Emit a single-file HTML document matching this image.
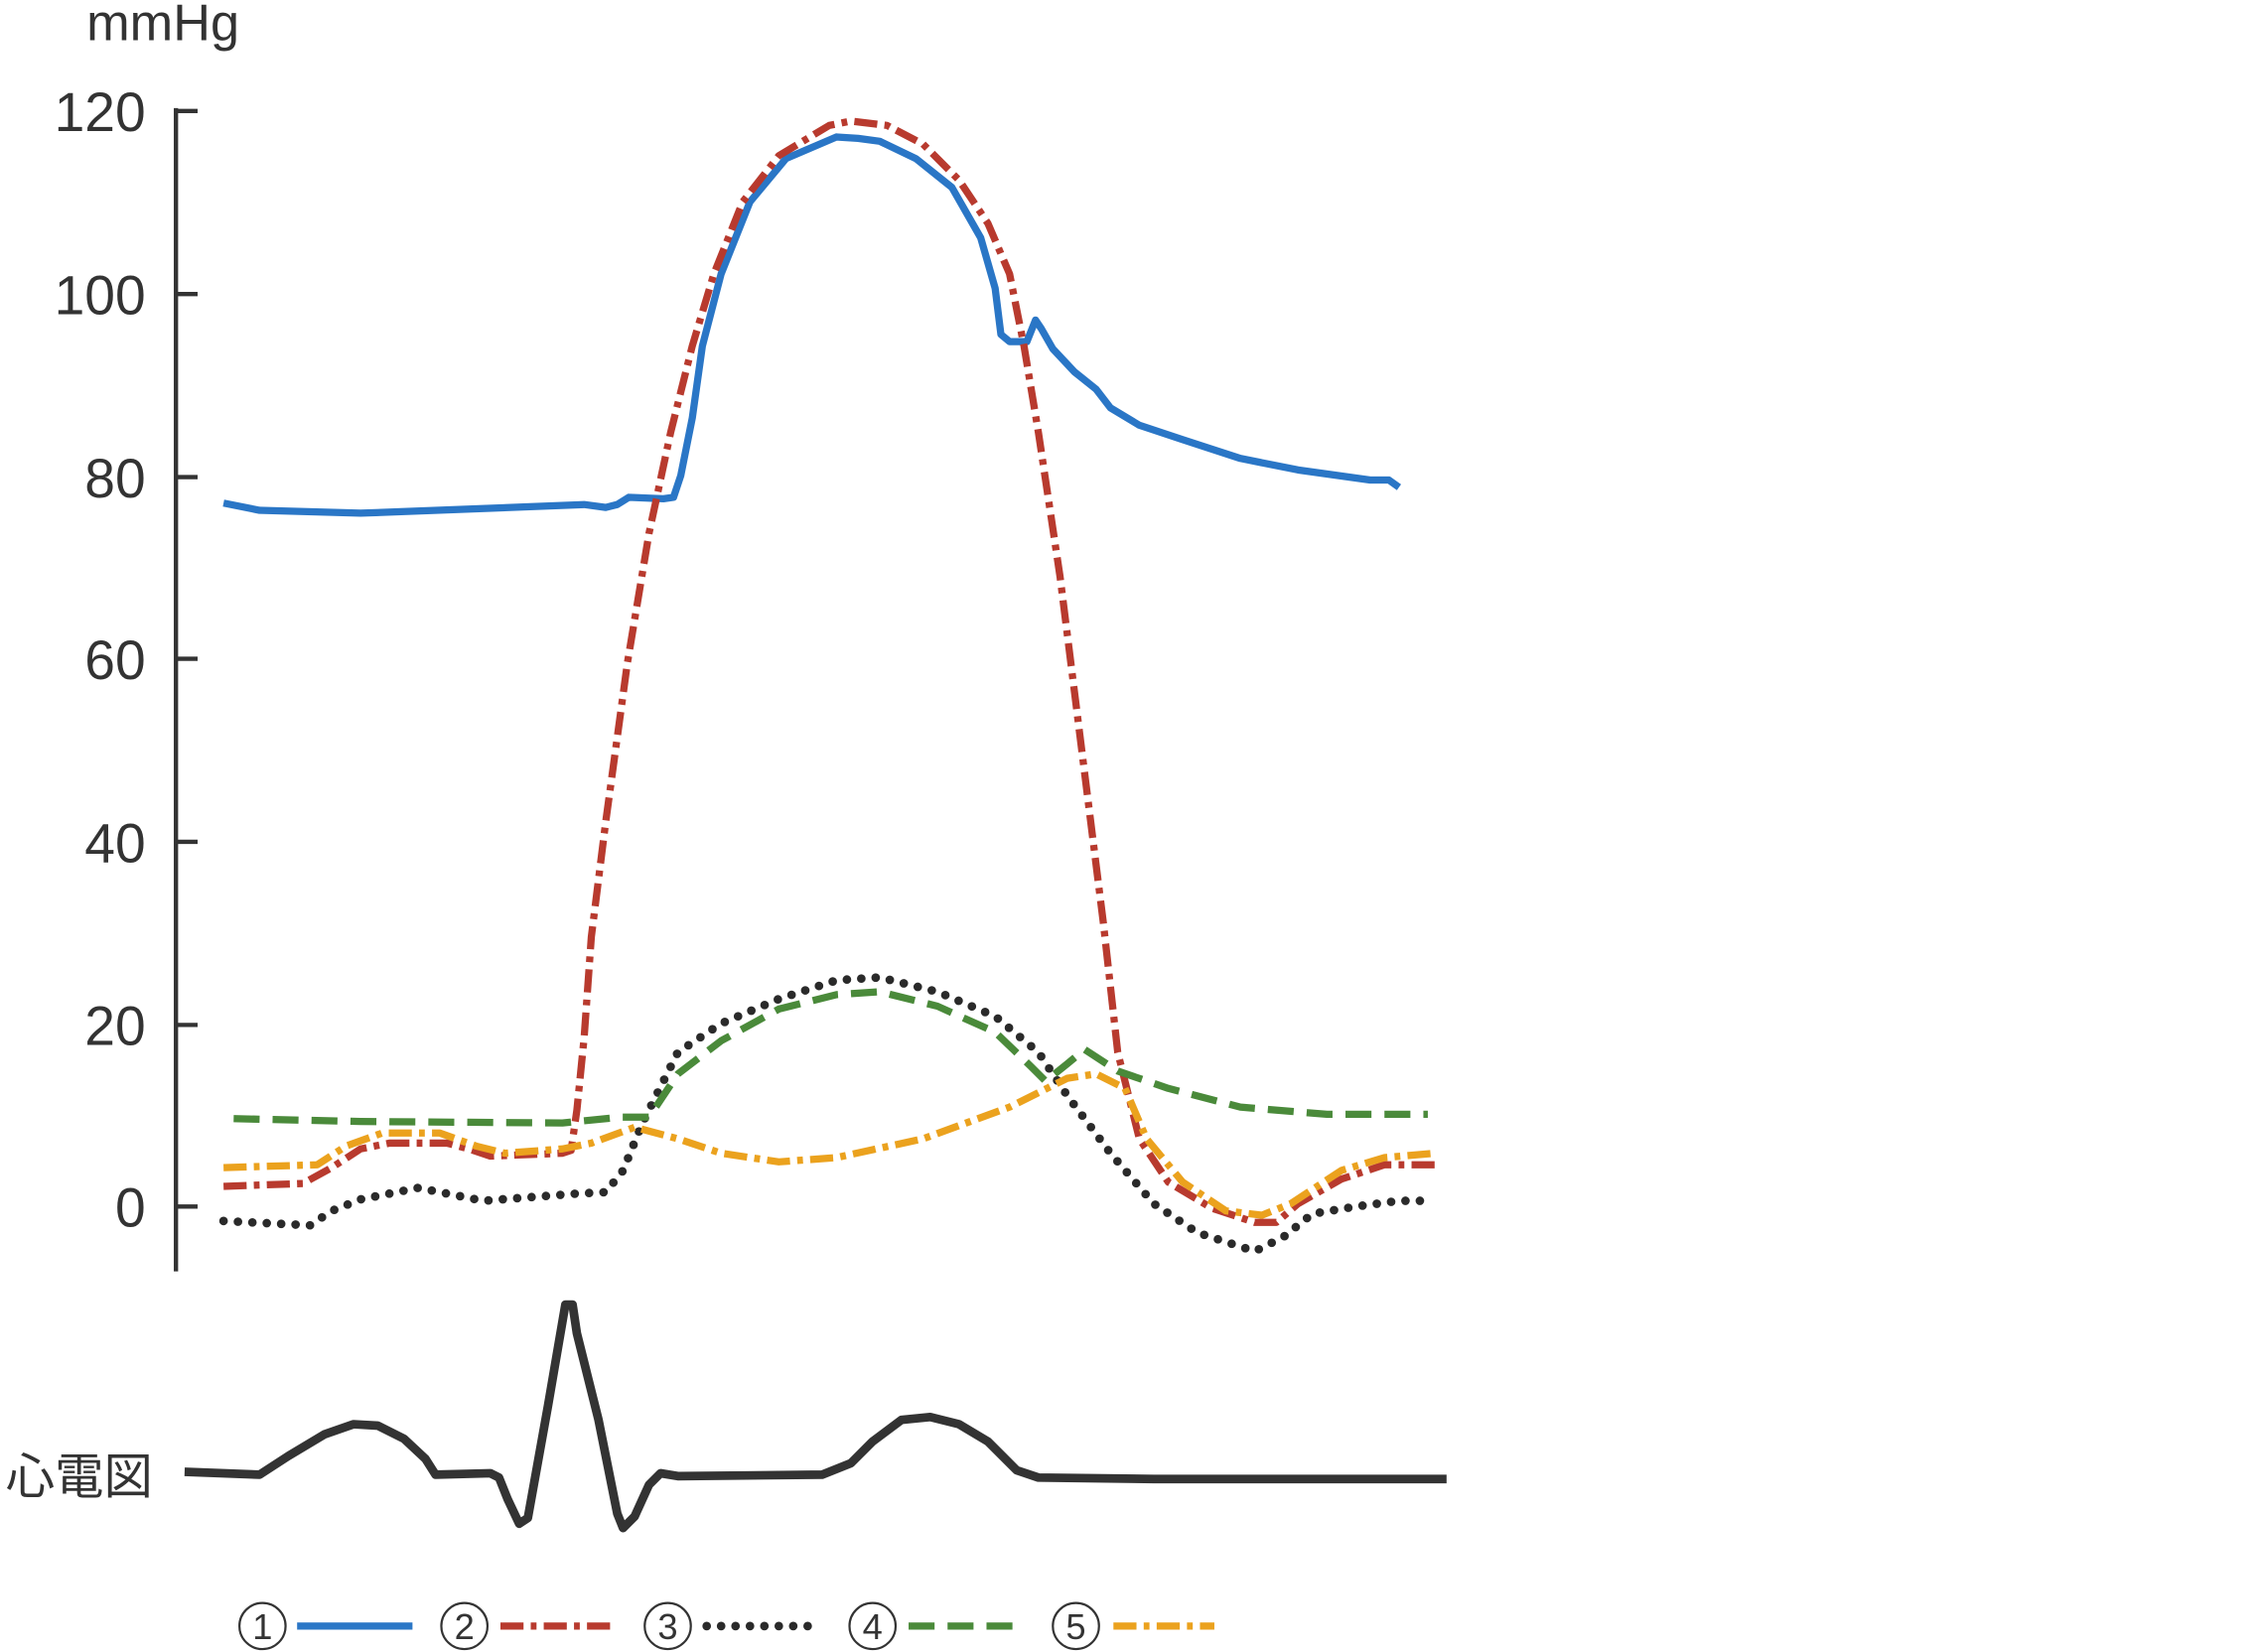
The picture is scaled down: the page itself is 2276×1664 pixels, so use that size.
<!DOCTYPE html>
<html><head><meta charset="utf-8"><style>html,body{margin:0;padding:0;background:#fff}svg{display:block}</style></head><body>
<svg width="2276" height="1664" viewBox="0 0 1567 1146" preserveAspectRatio="none" xmlns="http://www.w3.org/2000/svg">
<g font-family="Liberation Sans, sans-serif" fill="#333" font-size="38">
<text x="60" y="28" font-size="36">mmHg</text>
<text x="101" y="91" text-anchor="end">120</text>
<text x="101" y="218" text-anchor="end">100</text>
<text x="101" y="345" text-anchor="end">80</text>
<text x="101" y="471" text-anchor="end">60</text>
<text x="101" y="598" text-anchor="end">40</text>
<text x="101" y="725" text-anchor="end">20</text>
<text x="101" y="851" text-anchor="end">0</text>
<text x="4" y="1036" font-size="34" font-family="Liberation Sans, Noto Sans CJK JP, sans-serif">心電図</text>
</g>
<g stroke="#333" stroke-width="3" fill="none">
<path d="M122 75V882M122 77H137M122 204H137M122 331H137M122 457H137M122 584H137M122 711H137M122 837H137"/>
</g>
<g fill="none" stroke-linejoin="round" stroke-linecap="butt" stroke-width="5">
<path stroke="#2a76c6" d="M155 349L180 354L250 356L330 353L405 350L420 352L428 350L436 345L460 346L467 345L472 330L480 290L487 240L500 190L520 140L545 110L580 95L595 96L610 98L635 110L660 130L680 165L690 200L694 232L700 237L712 237L718 222L722 228L730 242L745 258L760 270L770 283L790 295L820 305L860 318L900 326L950 333L963 333L970 338"/>
<path stroke="#b83a2e" stroke-dasharray="16 5 4 5" d="M155 823L210 821L230 810L250 797L270 793L310 793L325 797L340 802L390 800L396 798L400 770L405 720L410 650L420 570L435 460L450 370L465 300L480 240L495 190L515 140L540 108L575 87L590 84L615 87L640 100L665 125L685 155L700 190L710 240L720 300L735 400L745 480L755 560L765 640L775 730L790 790L810 820L840 838L870 848L885 848L900 835L930 818L960 808L995 808"/>
<path stroke="#2a2a2a" stroke-dasharray="0 10" stroke-linecap="round" stroke-width="6" d="M155 847L215 850L230 840L250 832L290 824L310 828L335 833L400 828L420 827L432 812L445 780L470 730L500 710L540 693L580 680L610 678L650 688L690 705L720 730L740 760L770 800L800 835L830 855L870 868L890 858L910 842L940 837L970 833L990 833"/>
<path stroke="#4a8a3a" stroke-dasharray="18 9" d="M162 776L250 778L390 779L430 775L450 775L470 745L500 722L540 700L580 690L610 688L650 698L690 716L715 740L725 750L740 738L752 728L775 743L810 755L860 768L920 773L990 773"/>
<path stroke="#eba21e" stroke-dasharray="16 5 4 5" d="M155 810L220 808L240 795L265 786L305 786L330 795L350 800L390 797L410 793L440 782L470 790L500 800L540 806L580 803L640 790L700 768L740 748L760 745L780 755L795 790L820 820L850 840L875 843L895 835L930 812L960 803L995 800"/>
<path stroke="#333" stroke-width="6" d="M128 1021L180 1023L200 1010L225 995L245 988L262 989L280 998L295 1012L302 1023L340 1022L346 1025L352 1040L360 1057L366 1053L380 975L392 905L397 905L400 925L415 985L428 1050L432 1060L440 1052L450 1030L458 1022L470 1024L570 1023L590 1015L605 1000L625 985L645 983L665 988L685 1000L705 1020L720 1025L800 1026L1003 1026"/>
</g>
<g fill="none" stroke-width="5">
<path stroke="#2a76c6" d="M206 1128H286"/>
<path stroke="#b83a2e" stroke-dasharray="16 5 4 5" d="M347 1128H425"/>
<path stroke="#2a2a2a" stroke-dasharray="0 10" stroke-linecap="round" stroke-width="6" d="M490 1128H568"/>
<path stroke="#4a8a3a" stroke-dasharray="18 9" d="M630 1128H710"/>
<path stroke="#eba21e" stroke-dasharray="16 5 4 5" d="M772 1128H842"/>
</g>
<g fill="none" stroke="#333" stroke-width="1.5">
<circle cx="182" cy="1128" r="16"/><circle cx="322" cy="1128" r="16"/><circle cx="463" cy="1128" r="16"/><circle cx="605" cy="1128" r="16"/><circle cx="746" cy="1128" r="16"/>
</g>
<g font-family="Liberation Sans, sans-serif" font-size="25" fill="#333" text-anchor="middle">
<text x="182" y="1137">1</text><text x="322" y="1137">2</text><text x="463" y="1137">3</text><text x="605" y="1137">4</text><text x="746" y="1137">5</text>
</g>
</svg>
</body></html>
